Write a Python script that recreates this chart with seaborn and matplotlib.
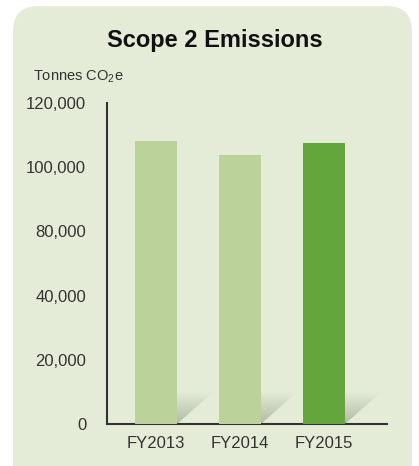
import numpy as np
import pandas as pd
import matplotlib
matplotlib.use("Agg")
import matplotlib.pyplot as plt
import seaborn as sns
from matplotlib.patches import FancyBboxPatch, Polygon

# data (y labels as printed on the original)
years = ["FY2013", "FY2014", "FY2015"]
emissions = [105800, 100600, 105000]
bar_colors = ["#bbd39b", "#bbd39b", "#63a63b"]
ytick_vals = [0, 24000, 48000, 72000, 96000, 120000]
ytick_text = ["0", "20,000", "40,000", "80,000", "100,000", "120,000"]

sns.set_style("white")
plt.rcParams["font.family"] = ["Liberation Sans Narrow", "Liberation Sans", "DejaVu Sans"]
plt.rcParams["mathtext.fontset"] = "custom"
plt.rcParams["mathtext.rm"] = "Liberation Sans"
plt.rcParams["mathtext.it"] = "Liberation Sans"

df = pd.DataFrame({"year": years, "value": emissions})

fig = plt.figure(figsize=(4.19, 4.66), dpi=100)
fig.patch.set_facecolor("white")

# rounded panel behind the chart
panel = FancyBboxPatch((13 / 419, -0.05), 399 / 419, 0.987 + 0.05,
                       boxstyle="round,pad=0,rounding_size=0.06",
                       transform=fig.transFigure, facecolor="#e4ecd7",
                       edgecolor="none", zorder=-5, mutation_aspect=419 / 466)
fig.patches.append(panel)

ax = fig.add_axes([107 / 419, 42 / 466, 280 / 419, 321 / 466])
ax.set_facecolor("none")
ax.set_zorder(2)

sns.barplot(data=df, x="year", y="value", hue="year", palette=bar_colors,
            legend=False, width=0.5, saturation=1, linewidth=0,
            ax=ax, zorder=3)

# soft cast shadow at the foot of each bar
grad = np.linspace(0, 1, 64)
gx, gy = np.meshgrid(grad, grad)
alpha = np.clip(1 - np.maximum(gy, gx * 0.6), 0, 1) * 0.45
img = np.zeros((64, 64, 4))
img[..., 0] = 0.45
img[..., 1] = 0.50
img[..., 2] = 0.40
img[..., 3] = alpha
for p in list(ax.patches):
    x1 = p.get_x() + p.get_width()
    dx, dy = 0.43, 12000
    tri = Polygon([(x1, 0), (x1 + dx, dy), (x1, dy)], closed=True,
                  facecolor="none", edgecolor="none", transform=ax.transData)
    ax.add_patch(tri)
    im = ax.imshow(img, extent=(x1, x1 + dx, 0, dy), origin="lower",
                   aspect="auto", zorder=2, interpolation="bilinear")
    im.set_clip_path(tri)
ax.set_xlim(-0.583, 2.75)
ax.set_ylim(0, 120000)

ax.set_yticks(ytick_vals)
ax.set_yticklabels(ytick_text)
ax.tick_params(axis="both", length=0, labelsize=12, colors="#333333")
ax.tick_params(axis="y", pad=15)
ax.tick_params(axis="x", pad=9)
ax.set_xlabel("")
ax.set_ylabel("")

for s in ["top", "right"]:
    ax.spines[s].set_visible(False)
for s in ["left", "bottom"]:
    ax.spines[s].set_color("#333333")
    ax.spines[s].set_linewidth(1.5)

fig.text(215 / 419, 1 - 40 / 466, "Scope 2 Emissions", ha="center", va="center",
         fontsize=17, fontweight="bold", family=["Liberation Sans", "DejaVu Sans"],
         color="#111111")
fig.text(33 / 419, 1 - 77 / 466, r"Tonnes CO$_{2}$e", ha="left", va="center",
         fontsize=10.5, color="#333333")

fig.savefig("out.png", dpi=100, facecolor="white")
